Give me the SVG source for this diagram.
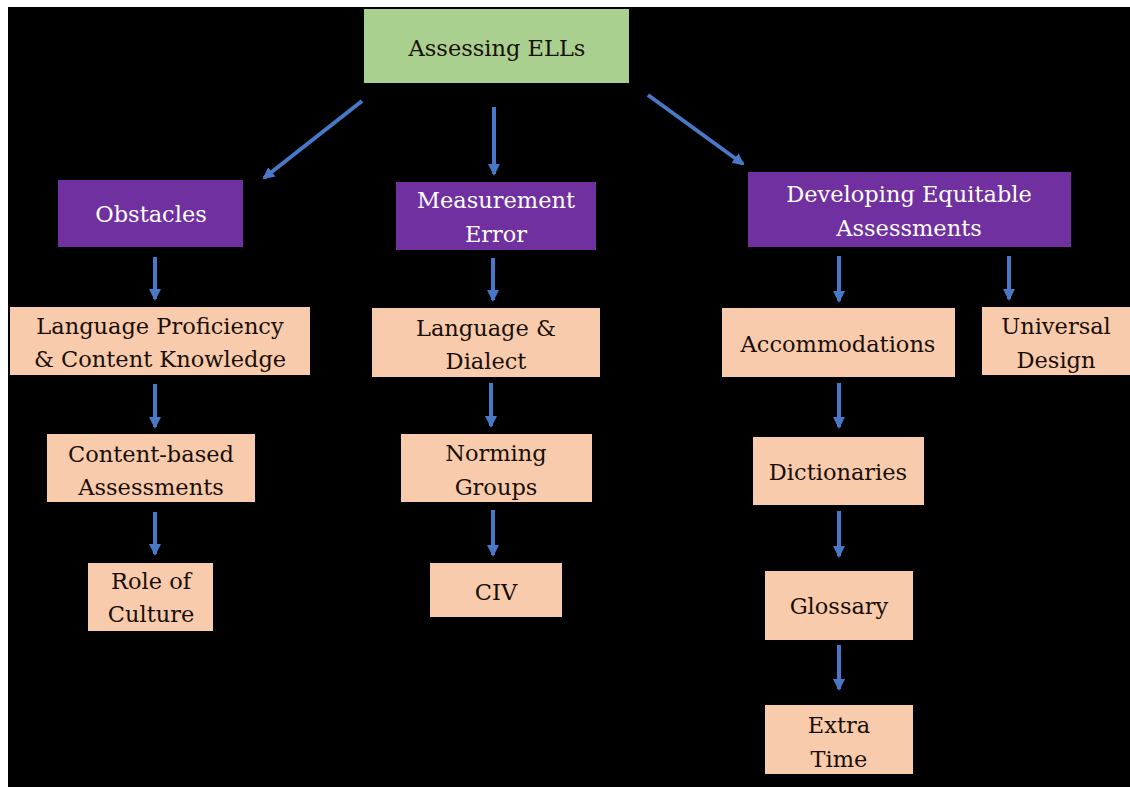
<svg xmlns="http://www.w3.org/2000/svg" width="1130" height="787" viewBox="0 0 1130 787">
<defs>
<marker id="ah" markerUnits="userSpaceOnUse" markerWidth="12" markerHeight="12" viewBox="0 0 12 12" refX="10" refY="6" orient="auto">
<path d="M0,0 L12,6 L0,12 z" fill="#4a78c8"/>
</marker>
</defs>
<style>
text{font-family:'DejaVu Serif',serif;font-size:22.5px;text-anchor:middle}
.g{fill:#a9d08e}
.p{fill:#7030a0}
.o{fill:#f8cbad}
.tw{fill:#fff}
.td{fill:#1a0f08}
.c line{stroke:#4a78c8;stroke-width:4;marker-end:url(#ah)}
</style>
<rect x="0" y="0" width="1130" height="787" fill="#fff"/>
<rect x="8" y="7" width="1122" height="780" fill="#000"/>
<g class="c">
<line x1="362" y1="101" x2="264" y2="178"/>
<line x1="494" y1="107" x2="494" y2="174"/>
<line x1="648" y1="95" x2="743" y2="164"/>
<line x1="155" y1="257" x2="155" y2="299"/>
<line x1="155" y1="384" x2="155" y2="427"/>
<line x1="155" y1="512" x2="155" y2="554"/>
<line x1="493" y1="258" x2="493" y2="300"/>
<line x1="491" y1="383" x2="491" y2="426"/>
<line x1="493" y1="510" x2="493" y2="555"/>
<line x1="839" y1="256" x2="839" y2="301"/>
<line x1="1009" y1="256" x2="1009" y2="299"/>
<line x1="839" y1="383" x2="839" y2="427"/>
<line x1="839" y1="511" x2="839" y2="556"/>
<line x1="839" y1="645" x2="839" y2="689"/>
</g>
<g id="assessing"><rect class="g" x="364" y="9" width="265" height="74"/><text class="td" x="497" y="56">Assessing ELLs</text></g>
<g id="obstacles"><rect class="p" x="58" y="180" width="185" height="67"/><text class="tw" x="151" y="222">Obstacles</text></g>
<g id="measurement"><rect class="p" x="396" y="182" width="200" height="68"/><text class="tw" x="496" y="208">Measurement</text><text class="tw" x="496" y="242">Error</text></g>
<g id="developing"><rect class="p" x="748" y="172" width="323" height="75"/><text class="tw" x="909" y="202">Developing Equitable</text><text class="tw" x="909" y="236">Assessments</text></g>
<g id="langprof"><rect class="o" x="10" y="307" width="300" height="68"/><text class="td" x="160" y="334">Language Proficiency</text><text class="td" x="160" y="367">&amp; Content Knowledge</text></g>
<g id="contentbased"><rect class="o" x="47" y="434" width="208" height="68"/><text class="td" x="151" y="462">Content-based</text><text class="td" x="151" y="495">Assessments</text></g>
<g id="role"><rect class="o" x="88" y="563" width="125" height="68"/><text class="td" x="151" y="589">Role of</text><text class="td" x="151" y="622">Culture</text></g>
<g id="langdialect"><rect class="o" x="372" y="308" width="228" height="69"/><text class="td" x="486" y="336">Language &amp;</text><text class="td" x="486" y="369">Dialect</text></g>
<g id="norming"><rect class="o" x="401" y="434" width="191" height="68"/><text class="td" x="496" y="461">Norming</text><text class="td" x="496" y="495">Groups</text></g>
<g id="civ"><rect class="o" x="430" y="563" width="132" height="54"/><text class="td" x="496" y="600">CIV</text></g>
<g id="accommodations"><rect class="o" x="722" y="308" width="233" height="69"/><text class="td" x="838" y="352">Accommodations</text></g>
<g id="universal"><rect class="o" x="982" y="307" width="148" height="68"/><text class="td" x="1056" y="334">Universal</text><text class="td" x="1056" y="368">Design</text></g>
<g id="dictionaries"><rect class="o" x="753" y="437" width="171" height="68"/><text class="td" x="838" y="480">Dictionaries</text></g>
<g id="glossary"><rect class="o" x="765" y="571" width="148" height="69"/><text class="td" x="839" y="614">Glossary</text></g>
<g id="extratime"><rect class="o" x="765" y="705" width="148" height="69"/><text class="td" x="839" y="733">Extra</text><text class="td" x="839" y="767">Time</text></g>
</svg>
